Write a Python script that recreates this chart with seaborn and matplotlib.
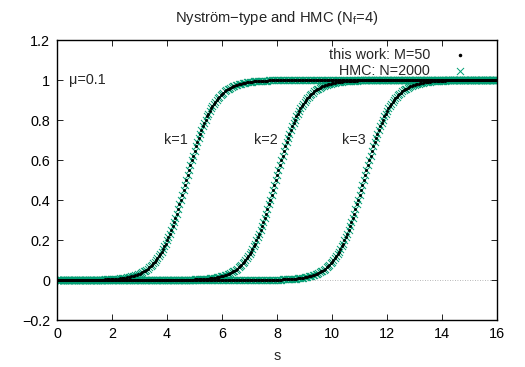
import numpy as np
import pandas as pd
import matplotlib
matplotlib.use("Agg")
import matplotlib.pyplot as plt
import seaborn as sns

# ---------------- data ----------------
s_grid = np.round(np.arange(0.0, 16.0 + 1e-9, 0.05), 2)          # sample positions in s

# shape of one transition (values from 0 to 1, step 0.05 in s, centred on the midpoint)
rise = [0.002, 0.003, 0.003, 0.003, 0.004, 0.004, 0.005, 0.005, 0.005, 0.006,
        0.007, 0.007, 0.008, 0.009, 0.010, 0.011, 0.012, 0.013, 0.015, 0.016,
        0.018, 0.020, 0.022, 0.024, 0.027, 0.029, 0.032, 0.036, 0.039, 0.043,
        0.047, 0.052, 0.057, 0.063, 0.069, 0.076, 0.083, 0.091, 0.100, 0.109,
        0.119, 0.130, 0.142, 0.154, 0.168, 0.182, 0.198, 0.214, 0.231, 0.250,
        0.269, 0.289, 0.310, 0.332, 0.354, 0.378, 0.401, 0.426, 0.450, 0.475,
        0.500,
        0.525, 0.550, 0.574, 0.599, 0.622, 0.646, 0.668, 0.690, 0.711, 0.731,
        0.750, 0.769, 0.786, 0.802, 0.818, 0.832, 0.846, 0.858, 0.870, 0.881,
        0.891, 0.900, 0.909, 0.917, 0.924, 0.931, 0.937, 0.943, 0.948, 0.953,
        0.957, 0.961, 0.964, 0.968, 0.971, 0.973, 0.976, 0.978, 0.980, 0.982,
        0.984, 0.985, 0.987, 0.988, 0.989, 0.990, 0.991, 0.992, 0.993, 0.993,
        0.994, 0.995, 0.995, 0.996, 0.996, 0.996, 0.997, 0.997, 0.997, 0.998]

curve_names = ["k=1", "k=2", "k=3"]
curve_start_s = [1.70, 4.95, 8.15]          # s where each transition table begins
label_s = [3.9, 7.15, 10.35]
label_y = [0.7, 0.7, 0.7]

x_ticks = [0, 2, 4, 6, 8, 10, 12, 14, 16]
y_ticks = [-0.2, 0, 0.2, 0.4, 0.6, 0.8, 1.0, 1.2]
y_tick_labels = ["\u22120.2", "0", "0.2", "0.4", "0.6", "0.8", "1", "1.2"]

title = "Nystr\u00f6m\u2212type and HMC (N$_\\mathregular{f}$=4)"
legend_labels = ["this work: M=50", "HMC: N=2000"]
mu_text = "\u03bc=0.1"

# build long table
rows = []
n = len(s_grid)
for name, st in zip(curve_names, curve_start_s):
    i0 = int(round(st / 0.05))
    yv = [0.0] * i0 + rise + [1.0] * (n - i0 - len(rise))
    for s, v in zip(s_grid, yv):
        rows.append((s, v, name))
df = pd.DataFrame(rows, columns=["s", "value", "curve"])

# ---------------- style ----------------
sns.set_style("ticks")
plt.rcParams["font.family"] = ["Liberation Sans", "DejaVu Sans"]
plt.rcParams["mathtext.fontset"] = "custom"
plt.rcParams["mathtext.rm"] = "Liberation Sans"
plt.rcParams["mathtext.it"] = "Liberation Sans:italic"
plt.rcParams["axes.unicode_minus"] = True

green = "#009e73"
fs = 10.4
x_size = 26
dot_size = 4.5

fig = plt.figure(figsize=(5.25, 3.67), dpi=100)
ax = fig.add_axes([57 / 525, 1 - 320 / 367, 440 / 525, 280 / 367])

ax.axhline(0, color="#a0a0a0", lw=0.6, ls=(0, (1, 2)), zorder=0)

sns.scatterplot(data=df, x="s", y="value", marker="x", color=green, s=x_size,
                linewidth=0.7, ax=ax, legend=False, zorder=2)
sns.scatterplot(data=df, x="s", y="value", marker="o", color="black", s=dot_size,
                linewidth=0, ax=ax, legend=False, zorder=3)

ax.set_xlim(0, 16)
ax.set_ylim(-0.2, 1.2)
ax.set_xticks(x_ticks)
ax.set_xticklabels([str(t) for t in x_ticks], fontsize=fs)
ax.set_yticks(y_ticks)
ax.set_yticklabels(y_tick_labels, fontsize=fs)
ax.tick_params(direction="in", length=4, width=0.6, top=True, right=True,
               pad=5, colors="black")
for sp in ax.spines.values():
    sp.set_linewidth(1.0)
    sp.set_color("black")

ax.set_xlabel("s", fontsize=fs, labelpad=6)
ax.set_ylabel("")
fig.text((57 + 497) / 2 / 525, 1 - 18 / 367, title, ha="center", va="center",
         fontsize=fs + 0.2)

for nm, lx, ly in zip(curve_names, label_s, label_y):
    ax.text(lx, ly, nm, ha="left", va="center", fontsize=fs)
ax.text(0.45, 1.0, mu_text, ha="left", va="center", fontsize=fs)

# legend (gnuplot style: right-aligned text, sample on the right)
ax.text(0.848, 0.946, legend_labels[0], transform=ax.transAxes, ha="right",
        va="center", fontsize=fs)
ax.text(0.848, 0.889, legend_labels[1], transform=ax.transAxes, ha="right",
        va="center", fontsize=fs)
ax.scatter([0.916], [0.946], transform=ax.transAxes, marker="o", s=dot_size + 2,
           color="black", linewidth=0, clip_on=False)
ax.scatter([0.916], [0.889], transform=ax.transAxes, marker="x", s=x_size,
           color=green, linewidth=0.7, clip_on=False)

fig.savefig("out.png", dpi=100)
